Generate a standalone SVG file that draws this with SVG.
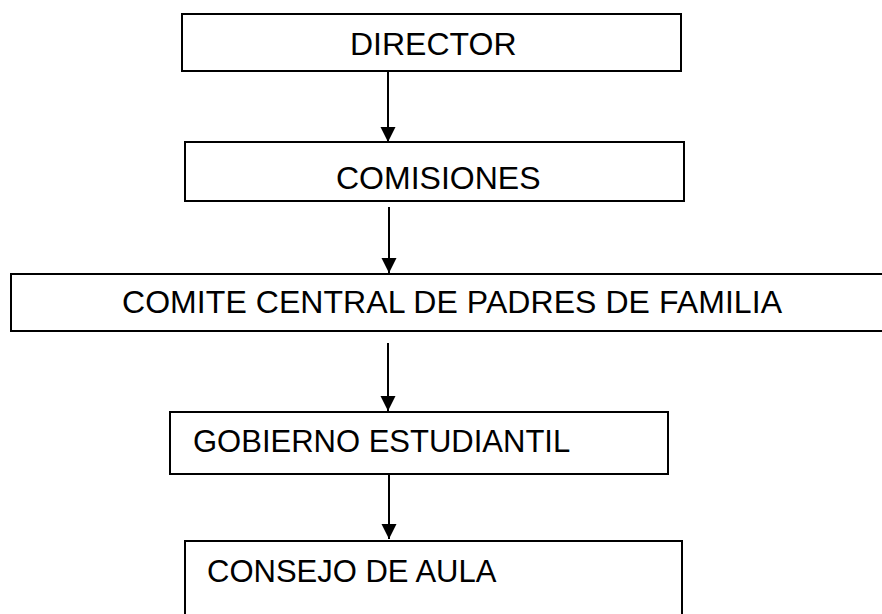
<svg xmlns="http://www.w3.org/2000/svg" width="882" height="614" viewBox="0 0 882 614">
<defs>
<style>
.box{fill:#fff;stroke:#000;stroke-width:2}
.lbl{font-family:"Liberation Sans",Arial,sans-serif;font-size:31px;fill:#000}
.big{font-size:32px}
.con{stroke:#000;stroke-width:2;fill:none;marker-end:url(#ah)}
</style>
<marker id="ah" markerUnits="userSpaceOnUse" markerWidth="16" markerHeight="16" viewBox="0 0 16 16" refX="15" refY="8" orient="auto">
<path d="M0,0.5 L15,8 L0,15.5 Z" fill="#000"/>
</marker>
</defs>
<rect width="882" height="614" fill="#fff"/>
<g id="n-director">
<rect class="box" x="182" y="14" width="499" height="57"/>
<text class="lbl big" x="350" y="55">DIRECTOR</text>
</g>
<g id="n-comisiones">
<rect class="box" x="185" y="142" width="499" height="59"/>
<text class="lbl big" x="336" y="189">COMISIONES</text>
</g>
<g id="n-comite">
<path class="box" d="M884,274 H11 V331 H884"/>
<text class="lbl big" x="122" y="313" textLength="660" lengthAdjust="spacing">COMITE CENTRAL DE PADRES DE FAMILIA</text>
</g>
<g id="n-gobierno">
<rect class="box" x="170" y="412" width="498" height="62"/>
<text class="lbl" x="193" y="452">GOBIERNO ESTUDIANTIL</text>
</g>
<g id="n-consejo">
<path class="box" d="M185,616 V541 H682 V616"/>
<text class="lbl" x="207" y="582">CONSEJO DE AULA</text>
</g>
<g id="connectors">
<line class="con" x1="388" y1="71" x2="388" y2="142"/>
<line class="con" x1="389" y1="207" x2="389" y2="273"/>
<line class="con" x1="388" y1="343" x2="388" y2="411"/>
<line class="con" x1="389" y1="474" x2="389" y2="539"/>
</g>
</svg>
